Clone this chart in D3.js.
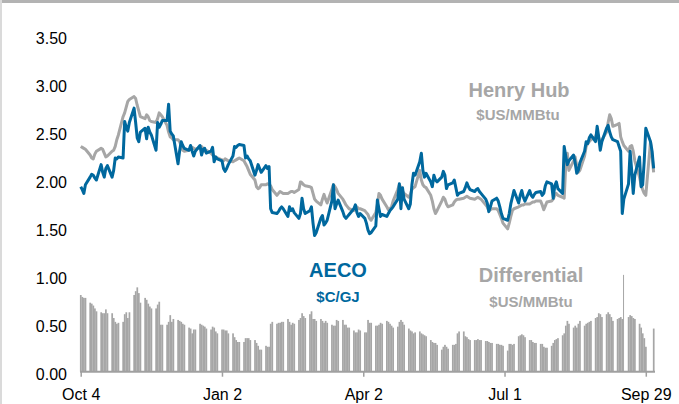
<!DOCTYPE html>
<html>
<head>
<meta charset="utf-8">
<script src="https://cdn.jsdelivr.net/npm/d3@7"></script>
<style>
  body { margin: 0; background: #fff; }
  svg { display: block; font-family: "Liberation Sans", Arial, sans-serif; }
</style>
</head>
<body>
<div class="chart"></div>
<script>
// trading days start on Tue Oct 4, one value per weekday (rows = weeks)
var startDate = "2016-10-04";
var tickDates = ["2016-10-04", "2017-01-02", "2017-04-02", "2017-07-01", "2017-09-29"];
var yTicks = [0, 0.5, 1, 1.5, 2, 2.5, 3, 3.5];

var henryHub = [
  2.35, 2.34, 2.33, 2.32,
  2.26, 2.23, 2.22, 2.27, 2.30,
  2.33, 2.32, 2.28, 2.24, 2.25,
  2.30, 2.31, 2.35, 2.42, 2.47,
  2.66, 2.70, 2.76, 2.82, 2.84,
  2.87, 2.85, 2.78, 2.72, 2.66,
  2.64, 2.68, 2.66, 2.62, 2.61,
  2.60, 2.64, 2.70, 2.68, 2.66,
  2.57, 2.50, 2.45, 2.44, 2.42,
  2.42, 2.40, 2.36, 2.31, 2.30,
  2.31, 2.33, 2.34, 2.33, 2.32,
  2.34, 2.35, 2.33, 2.30, 2.31,
  2.28, 2.26, 2.25, 2.24, 2.23,
  2.21, 2.20, 2.22, 2.21, 2.20,
  2.19, 2.20, 2.21, 2.22, 2.23,
  2.20, 2.17, 2.14, 2.10, 2.06,
  2.00, 1.93, 1.91, 1.92, 1.95,
  1.95, 1.96, 1.95, 1.94, 1.90,
  1.84, 1.86, 1.88, 1.87, 1.86,
  1.86, 1.87, 1.88, 1.88, 1.87,
  1.90, 1.98, 1.97, 1.95, 1.94,
  1.93, 1.92, 1.86, 1.80, 1.78,
  1.74, 1.80, 1.85, 1.80, 1.76,
  1.90, 1.95, 1.93, 1.90, 1.86,
  1.80, 1.77, 1.74, 1.72, 1.70,
  1.68, 1.70, 1.72, 1.70, 1.70,
  1.68, 1.66, 1.64, 1.60, 1.58,
  1.66, 1.74, 1.86, 1.84, 1.80,
  1.72, 1.69, 1.70, 1.72, 1.78,
  1.90, 1.95, 1.92, 1.88, 1.86,
  1.82, 1.85, 1.90, 1.92, 1.93,
  2.10, 2.00, 1.95, 1.93, 1.92,
  1.84, 1.78, 1.70, 1.65, 1.68,
  1.78, 1.82, 1.80, 1.75, 1.72,
  1.74, 1.77, 1.79, 1.80, 1.80,
  1.81, 1.82, 1.83, 1.82, 1.81,
  1.80, 1.81, 1.82, 1.81, 1.80,
  1.74, 1.72, 1.68, 1.69, 1.70,
  1.70, 1.68, 1.64, 1.60, 1.55,
  1.49, 1.55, 1.62, 1.68, 1.70,
  1.72, 1.73, 1.74, 1.74, 1.75,
  1.75, 1.76, 1.77, 1.77, 1.78,
  1.78, 1.74, 1.69, 1.73, 1.77,
  1.78, 1.80, 1.84, 1.86, 1.84,
  1.82, 1.81, 2.15, 2.28, 2.10,
  2.20, 2.24, 2.15, 2.08, 2.10,
  2.25, 2.35, 2.38, 2.40, 2.42,
  2.45, 2.50, 2.44, 2.38, 2.42,
  2.50, 2.60, 2.68, 2.64, 2.56,
  2.58, 2.59, 2.45, 2.40, 2.36,
  2.30, 2.35, 2.36, 2.30, 2.20,
  2.03, 1.95, 1.90, 1.86, 1.84,
  2.40, 2.25, 2.08
];

var aeco = [
  1.93, 1.90, 1.86, 1.95,
  2.03, 2.06, 2.05, 2.02, 2.00,
  2.16, 2.08, 2.03, 2.12, 2.15,
  2.03, 2.10, 2.23, 2.22, 2.24,
  2.23, 2.61, 2.55, 2.51, 2.60,
  2.75, 2.60, 2.44, 2.40, 2.50,
  2.54, 2.43, 2.55, 2.50, 2.47,
  2.31, 2.60, 2.55, 2.58, 2.62,
  2.62, 2.79, 2.51, 2.48, 2.46,
  2.17, 2.30, 2.40, 2.36, 2.33,
  2.31, 2.36, 2.30, 2.25, 2.30,
  2.36, 2.26, 2.32, 2.33, 2.28,
  2.30, 2.34, 2.19, 2.24, 2.22,
  2.20, 2.12, 2.09, 2.12, 2.16,
  2.25, 2.35, 2.34, 2.36, 2.37,
  2.36, 2.23, 2.25, 2.22, 2.20,
  2.05, 2.10, 2.16, 2.12, 2.08,
  2.15, 2.12, 2.14, 1.70, 1.66,
  1.65, 1.67, 1.70, 1.72, 1.70,
  1.62, 1.72, 1.68, 1.70, 1.66,
  1.60, 1.65, 1.81, 1.70, 1.65,
  1.68, 1.72, 1.55, 1.42, 1.45,
  1.60, 1.63, 1.53, 1.55, 1.58,
  1.78, 1.95, 1.70, 1.75, 1.79,
  1.67, 1.62, 1.60, 1.62, 1.64,
  1.70, 1.74, 1.66, 1.62, 1.65,
  1.60, 1.55, 1.48, 1.44, 1.45,
  1.52, 1.79, 1.70, 1.62, 1.64,
  1.62, 1.65, 1.68, 1.70, 1.72,
  1.80, 1.96, 1.70, 1.92, 1.80,
  1.70, 1.75, 1.95, 2.07, 2.05,
  2.19, 2.28, 2.10, 2.03, 2.07,
  1.98, 1.93, 2.05, 2.00, 1.98,
  2.03, 2.09, 2.05, 1.91, 1.95,
  1.97, 2.00, 1.92, 1.84, 1.86,
  1.88, 1.92, 1.97, 1.93, 1.90,
  1.88, 1.90, 1.91, 1.88, 1.86,
  1.80, 1.76, 1.67, 1.72, 1.78,
  1.81, 1.78, 1.72, 1.65, 1.60,
  1.58, 1.65, 1.75, 1.82, 1.89,
  1.76, 1.84, 1.89, 1.82, 1.78,
  1.89, 1.84, 1.82, 1.85, 1.87,
  1.88, 1.84, 1.86, 1.94, 1.98,
  1.96, 1.81, 1.94, 1.98, 1.91,
  1.86, 2.35, 2.25, 2.16, 2.20,
  2.26, 2.18, 2.07, 2.10, 2.18,
  2.30, 2.40, 2.38, 2.44, 2.47,
  2.40, 2.56, 2.45, 2.31, 2.40,
  2.54, 2.57, 2.50, 2.45, 2.42,
  2.40, 2.35, 2.30, 1.65, 1.80,
  1.96, 2.30, 2.10, 1.86, 2.05,
  2.24, 1.93, 1.95, 2.20, 2.54,
  2.40, 2.30, 2.12
];

var differential = [
  0.80, 0.78, 0.77, 0.77,
  0.72, 0.71, 0.69, 0.66, 0.63,
  0.62, 0.61, 0.61, 0.65, 0.61,
  0.61, 0.56, 0.52, 0.50, 0.51,
  0.52, 0.60, 0.62, 0.56, 0.62,
  0.80, 0.84, 0.88, 0.82, 0.72,
  0.77, 0.75, 0.71, 0.68, 0.66,
  0.66, 0.70, 0.73, 0.49, 0.49,
  0.49, 0.52, 0.59, 0.52, 0.55,
  0.54, 0.53, 0.52, 0.50, 0.49,
  0.46, 0.45, 0.40, 0.44, 0.44,
  0.50, 0.49, 0.48, 0.47, 0.45,
  0.44, 0.47, 0.46, 0.42, 0.40,
  0.44, 0.44, 0.43, 0.43, 0.40,
  0.40, 0.36, 0.33, 0.31, 0.31,
  0.31, 0.35, 0.35, 0.35, 0.33,
  0.33, 0.30, 0.27, 0.23, 0.23,
  0.27, 0.26, 0.26, 0.50, 0.52,
  0.50, 0.51, 0.51, 0.52, 0.52,
  0.55, 0.52, 0.49, 0.51, 0.50,
  0.54, 0.56, 0.61, 0.58, 0.56,
  0.60, 0.63, 0.55, 0.55, 0.53,
  0.55, 0.53, 0.51, 0.53, 0.51,
  0.49, 0.48, 0.48, 0.54, 0.53,
  0.54, 0.49, 0.49, 0.46, 0.46,
  0.43, 0.41, 0.41, 0.44, 0.43,
  0.41, 0.41, 0.54, 0.51, 0.51,
  0.48, 0.48, 0.49, 0.51, 0.50,
  0.53, 0.52, 0.50, 0.48, 0.46,
  0.47, 0.52, 0.54, 0.52, 0.49,
  0.45, 0.43, 0.42, 0.40, 0.41,
  0.42, 0.40, 0.39, 0.38, 0.37,
  0.33, 0.31, 0.30, 0.30, 0.28,
  0.23, 0.26, 0.28, 0.26, 0.24,
  0.28, 0.28, 0.29, 0.40, 0.42,
  0.42, 0.37, 0.36, 0.34, 0.33,
  0.33, 0.33, 0.34, 0.33, 0.33,
  0.32, 0.32, 0.31, 0.30, 0.30,
  0.29, 0.29, 0.28, 0.28, 0.27,
  0.22, 0.29, 0.29, 0.28, 0.29,
  0.37, 0.38, 0.39, 0.38, 0.36,
  0.33, 0.33, 0.31, 0.30, 0.30,
  0.29, 0.29, 0.26, 0.25, 0.25,
  0.27, 0.30, 0.33, 0.34, 0.35,
  0.38, 0.40, 0.48, 0.53, 0.50,
  0.46, 0.48, 0.46, 0.50, 0.53,
  0.48, 0.50, 0.51, 0.52, 0.53,
  0.56, 0.57, 0.61, 0.60, 0.57,
  0.60, 0.62, 0.60, 0.57, 0.53,
  0.55, 0.56, 0.57, 0.55, 1.01,
  0.57, 0.59, 0.58, 0.56, 0.55,
  0.50, 0.46, 0.40, 0.35, 0.26,
  null, null, 0.45
];

var blue = "#00689e";
var grey = "#a6a6a6";

var parseDate = d3.timeParse("%Y-%m-%d");

// weekday dates, one per value
var dates = [];
var d = parseDate(startDate);
while (dates.length < henryHub.length) {
  if (d.getDay() !== 0 && d.getDay() !== 6) dates.push(d);
  d = d3.timeDay.offset(d, 1);
}

var rows = dates.map(function(date, i) {
  return { date: date, hh: henryHub[i], aeco: aeco[i], diff: differential[i] };
});

var svgWidth = 679;
var svgHeight = 404;

var svg = d3.select(".chart")
  .append("svg")
  .attr("width", svgWidth)
  .attr("height", svgHeight);

// frame
svg.append("rect").attr("x", 0).attr("y", 0).attr("width", svgWidth).attr("height", 3).attr("fill", "#b3b3b3");
svg.append("rect").attr("x", 0).attr("y", 0).attr("width", 2).attr("height", svgHeight).attr("fill", "#dadada");

var xScale = d3.scaleTime()
  .domain([parseDate(tickDates[0]), parseDate(tickDates[tickDates.length - 1])])
  .range([80.7, 645.8]);

var yScale = d3.scaleLinear().domain([0, 3.5]).range([371.7, 36.2]);

// bars, one trading day wide
var dayW = xScale(d3.timeDay.offset(dates[0], 1)) - xScale(dates[0]);
svg.append("g")
  .selectAll("rect")
  .data(rows.filter(function(r) { return r.diff != null; }))
  .enter()
  .append("rect")
  .attr("x", function(r) { return xScale(r.date) - dayW / 2; })
  .attr("y", function(r) { return yScale(r.diff); })
  .attr("width", function(r) { return r.diff > 0.9 ? 1 : dayW + 0.15; })
  .attr("height", function(r) { return yScale(0) - yScale(r.diff); })
  .attr("fill", grey);

// x axis
var bottomAxis = d3.axisBottom(xScale)
  .tickValues(tickDates.map(parseDate))
  .tickFormat(d3.timeFormat("%b %-d"))
  .tickSize(5)
  .tickSizeOuter(0);

var xAxis = svg.append("g")
  .attr("transform", "translate(0," + yScale(0) + ")")
  .call(bottomAxis);
xAxis.select(".domain").attr("stroke", "#a0a0a0").attr("stroke-width", 2)
  .attr("d", "M80,0H655");
xAxis.selectAll(".tick line").attr("stroke", "#a0a0a0").attr("stroke-width", 1.5);
xAxis.selectAll(".tick text").attr("font-size", "16px").attr("fill", "#000").attr("dy", "1.25em");

// y axis labels
var leftAxis = d3.axisLeft(yScale)
  .tickValues(yTicks)
  .tickFormat(d3.format(".2f"))
  .tickSize(0);
var yAxis = svg.append("g")
  .attr("transform", "translate(67,2.5)")
  .call(leftAxis);
yAxis.select(".domain").remove();
yAxis.selectAll(".tick text").attr("font-size", "16px").attr("fill", "#000").attr("x", 0);

// lines
var hhLine = d3.line()
  .x(function(r) { return xScale(r.date); })
  .y(function(r) { return yScale(r.hh); });
var aecoLine = d3.line()
  .x(function(r) { return xScale(r.date); })
  .y(function(r) { return yScale(r.aeco); });

svg.append("path").datum(rows).attr("d", hhLine)
  .attr("fill", "none").attr("stroke", grey).attr("stroke-width", 3).attr("stroke-linejoin", "round");
svg.append("path").datum(rows).attr("d", aecoLine)
  .attr("fill", "none").attr("stroke", blue).attr("stroke-width", 3).attr("stroke-linejoin", "round");

// labels
function label(x, y, size, color, txt) {
  svg.append("text")
    .attr("x", x).attr("y", y)
    .attr("text-anchor", "middle")
    .attr("font-size", size)
    .attr("font-weight", "bold")
    .attr("fill", color)
    .text(txt);
}
label(519, 97, "20px", grey, "Henry Hub");
label(518, 120, "15px", grey, "$US/MMBtu");
label(338, 277, "20px", blue, "AECO");
label(338, 302, "15px", blue, "$C/GJ");
label(531, 282, "20px", grey, "Differential");
label(531, 307, "15px", grey, "$US/MMBtu");
</script>
</body>
</html>
